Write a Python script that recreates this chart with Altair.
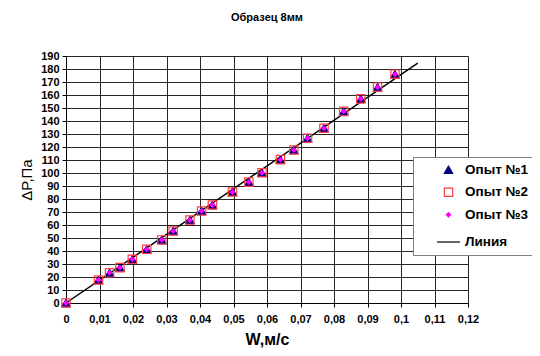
import altair as alt
import pandas as pd

# Data
w = [0, 0.0097, 0.0130, 0.0161, 0.0198, 0.0241, 0.0286, 0.0320, 0.0370, 0.0405, 0.0437,
     0.0497, 0.0546, 0.0585, 0.0640, 0.0680, 0.0721, 0.0770, 0.0829, 0.0880, 0.0930, 0.0982]
dp1 = [0, 17.7, 23.2, 27.2, 33.6, 41.3, 48.5, 55.4, 63.8, 70.8, 75.4,
       85.4, 93.0, 100.2, 110.3, 117.7, 126.7, 134.4, 147.4, 157.0, 166.0, 176.0]
dp2 = [0, 17.7, 23.2, 27.2, 33.6, 41.3, 48.5, 55.4, 63.8, 70.8, 75.4,
       85.4, 93.0, 100.2, 110.3, 117.7, 126.7, 134.4, 147.4, 157.0, 166.0, 176.0]
dp3 = [0, 17.7, 23.2, 27.2, 33.6, 41.3, 48.5, 55.4, 63.8, 70.8, 75.4,
       85.4, 93.0, 100.2, 110.3, 117.7, 126.7, 134.4, 147.4, 157.0, 166.0, 176.0]
line_w = [0, 0.105]
line_dp = [0, 184.5]

series_names = ["Опыт №1", "Опыт №2", "Опыт №3", "Линия"]
x_ticks = [0, 0.01, 0.02, 0.03, 0.04, 0.05, 0.06, 0.07, 0.08, 0.09, 0.1, 0.11, 0.12]
y_ticks = list(range(0, 191, 10))

rows = []
for name, ys in zip(series_names[:3], [dp1, dp2, dp3]):
    for xv, yv in zip(w, ys):
        rows.append({"W": xv, "P": yv, "series": name})
pts = pd.DataFrame(rows)
line_df = pd.DataFrame({"W": line_w, "P": line_dp})

FONT = "Liberation Sans"

x_enc = alt.X("W:Q", scale=alt.Scale(domain=[0, 0.12], nice=False, zero=False),
              axis=alt.Axis(values=x_ticks, title="W,м/с", labelFlush=False,
                            labelExpr="replace(toString(datum.value), '.', ',')"))
y_enc = alt.Y("P:Q", scale=alt.Scale(domain=[0, 190], nice=False),
              axis=alt.Axis(values=y_ticks, title="ΔP,Па", labelFlush=False))

line = alt.Chart(line_df).mark_line(color="black", strokeWidth=1.5).encode(x=x_enc, y=y_enc)

leg = alt.Legend(title=None, orient="none", legendX=347, legendY=101, columns=1,
                 padding=6, symbolOffset=17, labelOffset=4, rowPadding=7.5,
                 labelFont=FONT, labelFontSize=13.5, labelFontWeight="bold",
                 labelColor="black", labelLimit=300,
                 fillColor="white", strokeColor="#808080",
                 symbolStrokeWidth=1.2,
                 labelExpr="datum.label + '              '")

points = alt.Chart(pts).mark_point(filled=False, strokeWidth=1.2, opacity=1).encode(
    x=x_enc, y=y_enc,
    shape=alt.Shape("series:N", scale=alt.Scale(domain=series_names,
                    range=["triangle-up", "square", "diamond", "stroke"]), legend=leg),
    fill=alt.Fill("series:N", scale=alt.Scale(domain=series_names,
                  range=["#000080", "transparent", "#ff00ff", "transparent"]), legend=leg),
    stroke=alt.Stroke("series:N", scale=alt.Scale(domain=series_names,
                      range=["#000080", "#ff4040", "#ff00ff", "#000000"]), legend=leg),
    size=alt.Size("series:N", scale=alt.Scale(type="ordinal", domain=series_names,
                  range=[70, 70, 18, 529]), legend=leg),
)

chart = alt.layer(line, points).properties(
    width=402, height=247,
    autosize=alt.AutoSizeParams(type="none"),
    padding={"left": 58, "top": 48, "right": 64, "bottom": 45},
    title=alt.Title("Образец 8мм", font=FONT, fontSize=11, fontWeight="bold",
                    color="black", anchor="middle", offset=27),
).configure_view(stroke=None).configure_axis(
    labelFont=FONT, labelFontSize=11, labelFontWeight="bold", labelColor="black",
    titleFont=FONT, titleColor="black",
    domainColor="black", tickColor="black", tickSize=4,
    gridColor="black", gridOpacity=0.85, grid=True,
).configure_axisX(
    titleFontSize=16, titleFontWeight="bold", titlePadding=7, labelPadding=6,
).configure_axisY(
    titleFontSize=15, titleFontWeight="normal", titlePadding=6, labelPadding=3,
)

chart.save("out.html", embed_options={"renderer": "svg", "actions": False})
